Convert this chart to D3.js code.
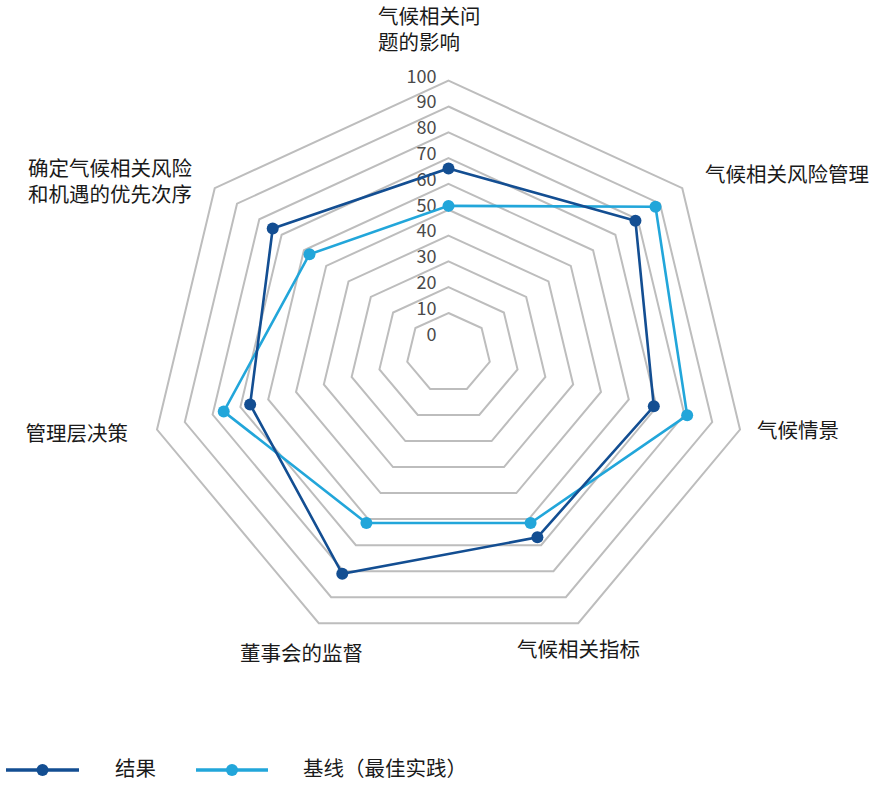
<!DOCTYPE html>
<html>
<head>
<meta charset="utf-8">
<script src="https://cdn.jsdelivr.net/npm/d3@7"></script>
<style>
  body { margin: 0; background: #fff; }
  svg text { font-family: "Noto Sans CJK SC", "Noto Sans", sans-serif; }
</style>
</head>
<body>
<div id="chart"></div>
<script>
// axes, clockwise from the top
var axes = ['气候相关问题的影响', '气候相关风险管理', '气候情景', '气候相关指标',
  '董事会的监督', '管理层决策', '确定气候相关风险和机遇的优先次序'];
var axisLines = [['气候相关问', '题的影响'], ['气候相关风险管理'], ['气候情景'], ['气候相关指标'],
  ['董事会的监督'], ['管理层决策'], ['确定气候相关风险', '和机遇的优先次序']];
var resultValues = [66, 79, 69, 67, 81, 66.5, 74];
var baselineValues = [51.5, 88, 81, 61.5, 61.5, 76, 57.5];
var seriesNames = ['结果', '基线（最佳实践）'];
var ringTicks = [10, 20, 30, 40, 50, 60, 70, 80, 90, 100];
var tickLabels = [0, 10, 20, 30, 40, 50, 60, 70, 80, 90, 100];

var w = 892,
h = 787,
cx = 448.5;

var darkBlue = '#134e92',
lightBlue = '#22a6da';

var svg = d3.select('#chart').append('svg').
attr('width', w).
attr('height', h);

// radial scales (horizontal/vertical differ slightly, and the centre drifts down as rings grow)
var rx = d3.scaleLinear().domain([0, 100]).range([13.8, 299]);
var ry = d3.scaleLinear().domain([0, 100]).range([12.7, 285.4]);
var cy = d3.scaleLinear().domain([0, 100]).range([351.5, 366.1]);
var angle = d3.scaleLinear().domain([0, axes.length]).range([0, 2 * Math.PI]);

function proj(v, i) {
  var a = angle(i);
  return [cx + rx(v) * Math.sin(a), cy(v) - ry(v) * Math.cos(a)];
}

var line = d3.line().curve(d3.curveLinearClosed);

// grid rings
svg.append('g').selectAll('path').
data(ringTicks).
enter().
append('path').
attr('d', t => line(axes.map((d, i) => proj(t, i)))).
attr('fill', 'none').
attr('stroke', '#bdbdbd').
attr('stroke-width', 2);

// tick labels
svg.append('g').selectAll('text').
data(tickLabels).
enter().
append('text').
attr('x', 436.5).
attr('y', d => cy(d) - ry(d) - 3).
attr('text-anchor', 'end').
attr('dominant-baseline', 'middle').
attr('font-size', 18).
attr('fill', '#4a4a4a').
text(d => d);

// category labels
var labelPos = [
  { x: 378, y: 18, anchor: 'start' },
  { x: 705, y: 176, anchor: 'start' },
  { x: 757, y: 432, anchor: 'start' },
  { x: 517, y: 651, anchor: 'start' },
  { x: 240, y: 655, anchor: 'start' },
  { x: 128, y: 435, anchor: 'end' },
  { x: 192, y: 170, anchor: 'end' }];

var catG = svg.append('g').selectAll('text').
data(axisLines).
enter().
append('text').
attr('x', (d, i) => labelPos[i].x).
attr('y', (d, i) => labelPos[i].y).
attr('text-anchor', (d, i) => labelPos[i].anchor).
attr('dominant-baseline', 'middle').
attr('font-size', 20.5).
attr('fill', '#1a1a1a');

catG.selectAll('tspan').
data(d => d).
enter().
append('tspan').
attr('x', function () { return d3.select(this.parentNode).attr('x'); }).
attr('dy', (d, j) => j === 0 ? 0 : 26).
text(d => d);

// series
var series = [
  { name: seriesNames[1], values: baselineValues, color: lightBlue },
  { name: seriesNames[0], values: resultValues, color: darkBlue }];

series.forEach(function (s) {
  var pts = s.values.map((v, i) => proj(v, i));
  svg.append('path').
  attr('d', line(pts)).
  attr('fill', 'none').
  attr('stroke', s.color).
  attr('stroke-width', 2.6);
  svg.append('g').selectAll('circle').
  data(pts).
  enter().
  append('circle').
  attr('cx', d => d[0]).
  attr('cy', d => d[1]).
  attr('r', 6).
  attr('fill', s.color);
});

// legend
var legendItems = [
  { name: seriesNames[0], color: darkBlue, x0: 6, x1: 79, tx: 115 },
  { name: seriesNames[1], color: lightBlue, x0: 196, x1: 268, tx: 303 }];

var legend = svg.append('g').attr('transform', 'translate(0,770)');
legendItems.forEach(function (d) {
  legend.append('line').
  attr('x1', d.x0).
  attr('x2', d.x1).
  attr('stroke', d.color).
  attr('stroke-width', 3.5);
  legend.append('circle').
  attr('cx', (d.x0 + d.x1) / 2).
  attr('r', 6).
  attr('fill', d.color);
  legend.append('text').
  attr('x', d.tx).
  attr('dominant-baseline', 'middle').
  attr('font-size', 20.5).
  attr('fill', '#1a1a1a').
  text(d.name);
});
</script>
</body>
</html>
